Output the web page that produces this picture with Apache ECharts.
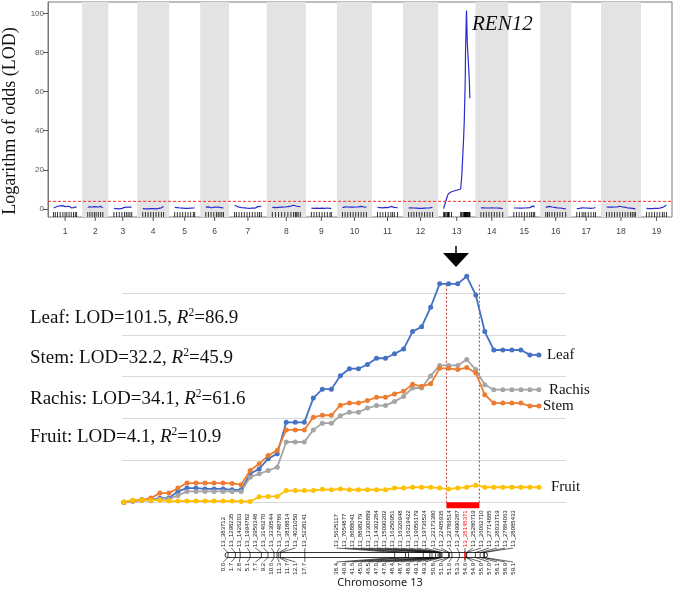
<!DOCTYPE html>
<html><head><meta charset="utf-8">
<script src="https://cdn.jsdelivr.net/npm/echarts@6/dist/echarts.min.js"></script>
<style>html,body{margin:0;padding:0;background:#fff}#c{width:675px;height:591px}</style>
</head><body><div id="c"></div>
<script>
// ===== Top panel: genome-wide LOD scan =====
const chrNames = ['1','2','3','4','5','6','7','8','9','10','11','12','13','14','15','16','17','18','19'];
const chrLengths = [52,34,40,47,45,40,60,63,45,54,45,54,59.1,49,47,45,42,65,45]; // cM
const chrGap = 25;
const lodThreshold = 3.9;
const lodTicks = [0,20,40,60,80,100];
const qtlName = 'REN12';
// [position cM, LOD]
const scan1 = [[0,0.5],[4,0.9],[9,1.4],[15,1.6],[21,1.7],[26,1.2],[30,1.0],[35,1.4],[40,0.6],[45,0.7],[49,1.0],[52,1.1]];
const scan2 = [[0,0.9],[5,1.1],[10,1.0],[15,1.2],[19,1.1],[24,1.0],[29,1.3],[34,0.6]];
const scan3 = [[0,0.3],[6,0.2],[12,0.1],[18,0.3],[24,0.8],[28,1.2],[32,0.9],[36,1.1],[40,0.9]];
const scan4 = [[0,0.2],[6,0.1],[12,0.1],[18,0.2],[24,0.2],[30,0.1],[36,0.3],[42,0.6],[47,1.3]];
const scan5 = [[0,0.8],[6,0.7],[12,0.5],[18,0.4],[24,0.3],[30,0.3],[36,0.4],[42,0.5],[45,0.6]];
const scan6 = [[0,0.9],[6,1.1],[12,0.6],[18,0.9],[24,1.0],[28,1.3],[32,0.8],[36,0.6],[40,0.5]];
const scan7 = [[0,1.9],[4,1.3],[10,0.9],[16,0.7],[22,0.6],[28,0.4],[34,0.3],[40,0.5],[46,0.4],[52,1.2],[56,1.4],[60,1.3]];
const scan8 = [[0,0.8],[7,0.7],[14,0.8],[21,0.9],[28,1.0],[35,1.2],[42,1.5],[48,1.9],[52,2.2],[55,1.4],[58,1.8],[63,1.2]];
const scan9 = [[0,0.4],[6,0.3],[12,0.4],[18,0.3],[24,0.4],[30,0.3],[36,0.5],[42,0.3],[45,0.2]];
const scan10 = [[0,0.7],[6,1.1],[12,1.0],[18,0.9],[24,0.9],[30,1.0],[36,1.1],[42,1.3],[48,1.0],[54,0.9]];
const scan11 = [[0,0.8],[6,0.7],[12,0.6],[18,0.8],[24,0.7],[30,1.3],[34,0.9],[38,0.8],[45,0.7]];
const scan12 = [[0,0.5],[6,0.6],[12,0.5],[18,0.4],[24,0.3],[30,0.3],[36,0.4],[42,0.5],[48,0.6],[54,0.9]];
const scan13 = [[0.0,0.2],[1.7,1.5],[2.8,2.5],[5.1,4.2],[7.7,6.0],[9.2,7.0],[10.6,7.8],[11.3,8.2],[11.7,8.4],[12.1,8.5],[17.7,8.8],[38.4,10.2],[40.9,17.0],[41.6,20.0],[45.0,36.0],[46.5,45.0],[47.0,50.0],[47.8,57.0],[48.4,63.0],[48.7,67.0],[48.9,70.0],[49.1,74.0],[49.3,80.0],[50.8,95.0],[51.0,98.0],[51.6,101.5],[53.3,85.0],[54.6,80.0],[54.9,78.0],[55.0,77.0],[57.0,70.0],[58.1,64.0],[58.9,58.0],[59.1,56.6]];
const scan14 = [[0,0.6],[6,0.6],[12,0.5],[18,0.5],[24,0.6],[30,0.5],[36,0.5],[42,0.4],[49,0.2]];
const scan15 = [[0,0.5],[6,0.5],[12,0.4],[18,0.4],[24,0.5],[30,0.6],[36,0.7],[40,1.4],[44,1.6],[47,1.0]];
const scan16 = [[0,0.8],[4,1.4],[8,1.3],[14,1.0],[20,0.8],[26,0.6],[32,0.5],[38,0.3],[45,0.1]];
const scan17 = [[0,0.2],[6,0.3],[12,0.6],[16,0.8],[20,0.5],[26,0.4],[32,0.3],[38,0.5],[42,0.7]];
const scan18 = [[0,1.0],[6,0.9],[12,0.9],[18,1.0],[24,1.0],[30,1.4],[36,1.0],[42,0.9],[48,0.5],[54,0.4],[58,0.6],[62,0.2],[65,0.1]];
const scan19 = [[0,0.3],[6,0.2],[12,0.2],[18,0.3],[24,0.3],[30,0.4],[36,0.8],[40,1.2],[45,1.9]];
const scanByChr = [scan1,scan2,scan3,scan4,scan5,scan6,scan7,scan8,scan9,scan10,scan11,scan12,scan13,scan14,scan15,scan16,scan17,scan18,scan19];

// ===== Bottom panel: chromosome 13 detail (LOD along markers) =====
const traitNames = ['Leaf','Stem','Rachis','Fruit'];
const traitLOD = ['101.5','32.2','34.1','4.1'];
const traitR2 = ['86.9','45.9','61.6','10.9'];
const leafLOD = [0,0.8,1.1,1.1,1.9,1.9,4.9,6.4,6.4,6.0,6.0,6.0,5.6,5.6,12.8,15.0,19.6,21.8,35.9,35.9,35.9,46.8,50.8,50.8,56.8,60.0,60.0,61.9,64.7,64.7,66.7,68.8,76.7,78.8,87.6,98.1,98.1,98.1,101.5,93.1,76.7,68.4,68.4,68.4,68.4,66.2,66.2];
const stemLOD = [0,0.4,0.6,1.0,2.2,2.2,3.4,4.6,4.6,4.6,4.6,4.6,4.5,4.2,7.6,9.2,11.2,12.4,17.3,17.3,17.3,20.3,20.8,20.8,23.2,23.7,23.7,24.3,25.1,25.1,25.9,26.5,28.2,27.7,28.3,32.0,32.0,31.7,32.2,30.9,25.7,23.7,23.7,23.7,23.7,23.0,23.0];
const rachisLOD = [0,0.2,0.4,0.4,0.8,0.8,1.6,2.6,2.6,2.6,2.6,2.6,2.6,2.6,6.0,6.8,7.6,8.4,14.4,14.4,14.4,17.3,18.9,18.9,20.7,21.5,21.5,22.5,23.1,23.1,24.1,25.3,27.3,27.3,30.2,32.7,32.7,32.7,34.1,31.7,28.1,26.9,26.9,26.9,26.9,26.9,26.9];
const fruitLOD = [0.1,0.5,0.5,0.5,0.5,0.3,0.3,0.3,0.3,0.3,0.3,0.3,0.3,0.2,0.2,1.3,1.4,1.4,2.8,2.8,2.8,2.8,3.1,3.0,3.2,3.0,3.0,3.0,3.0,3.0,3.4,3.4,3.6,3.6,3.6,3.4,3.2,3.4,3.6,4.1,3.6,3.6,3.6,3.6,3.6,3.6,3.6];
const qtlInterval = [35.75, 39.4];
const qtlLineTop = 52;

// ===== Linkage map of chromosome 13 =====
const mapMarkers = ['13_383712','13_1298235','13_1426203','13_1994782','13_2956348','13_3146270','13_3330544','13_3748786','13_3818814','13_4021050','13_5238141','13_5625117','13_7054877','13_8688041','13_8898279','13_13300889','13_14302284','13_15090202','13_16250951','13_16320948','13_16219422','13_19056179','13_19736524','13_22173380','13_22405935','13_22789514','13_24990287','13_25145371','13_25280719','13_26062710','13_27714885','13_28033719','13_27884063','13_28085433'];
const mapPositions = [0.0,1.7,2.8,5.1,7.7,9.2,10.6,11.3,11.7,12.1,17.7,38.4,40.9,41.6,45.0,46.5,47.0,47.8,48.4,48.7,48.9,49.1,49.3,50.8,51.0,51.6,53.3,54.6,54.9,55.0,57.0,58.1,58.9,59.1];
const highlightMarker = '13_25145371';
const mapTitle = 'Chromosome 13';

// ---------- layout helpers ----------
const chrStart = []; let acc = 0;
chrLengths.forEach(L => { chrStart.push(acc + chrGap / 2); acc += L + chrGap; });
const genomeTotal = acc;
const yMin = -4.1, yMax = 105.8;

// spread overlapping labels (least-squares with minimum gap); the block holding the
// highlighted marker is anchored so that its label sits straight above the marker
function spreadLabels(pos, gap, anchor) {
  const blocks = [];
  pos.forEach((p, i) => {
    blocks.push({ start: i, n: 1, sum: p - i * gap });
    while (blocks.length > 1) {
      const b = blocks[blocks.length - 1], a = blocks[blocks.length - 2];
      if (a.sum / a.n >= b.sum / b.n) { a.n += b.n; a.sum += b.sum; blocks.pop(); } else break;
    }
  });
  const out = [];
  blocks.forEach(b => {
    let m = b.sum / b.n;
    if (anchor >= b.start && anchor < b.start + b.n) m = pos[anchor] - anchor * gap;
    for (let k = 0; k < b.n; k++) out.push(m + (b.start + k) * gap);
  });
  return out;
}
const mapLen = mapPositions[mapPositions.length - 1];
const labelPos = spreadLabels(mapPositions, 1.85, mapMarkers.indexOf(highlightMarker));

const chart = echarts.init(document.getElementById('c'));
const serif = 'Liberation Serif';
const sans = 'Liberation Sans';

const scanSeries = scanByChr.map((pts, c) => ({
  type: 'line', xAxisIndex: 0, yAxisIndex: 0, z: 3,
  data: pts.map(p => [chrStart[c] + p[0], p[1]]),
  showSymbol: false, silent: true,
  lineStyle: { color: '#2b2bd0', width: 1.2 }
}));

const bandSeries = {
  type: 'custom', xAxisIndex: 0, yAxisIndex: 0, z: 1, silent: true,
  data: chrLengths.map((L, c) => [chrStart[c] - chrGap / 2, chrStart[c] + L + chrGap / 2, c]).filter(d => d[2] % 2 === 1),
  renderItem(params, api) {
    const x0 = api.coord([api.value(0), 0])[0], x1 = api.coord([api.value(1), 0])[0];
    const cs = params.coordSys;
    return { type: 'rect', shape: { x: x0, y: cs.y, width: x1 - x0, height: cs.height }, style: { fill: '#e3e3e3' } };
  }
};

const thresholdSeries = {
  type: 'custom', xAxisIndex: 0, yAxisIndex: 0, z: 4, silent: true,
  data: [[lodThreshold]],
  renderItem(params, api) {
    const y = api.coord([0, api.value(0)])[1];
    const cs = params.coordSys;
    return { type: 'line', shape: { x1: cs.x, y1: y, x2: cs.x + cs.width, y2: y }, style: { stroke: '#ff2a2a', lineWidth: 1, lineDash: [3, 2] } };
  }
};

const rugData = [];
scanByChr.forEach((pts, c) => pts.forEach(p => rugData.push([chrStart[c] + p[0]])));
const rugSeries = {
  type: 'custom', xAxisIndex: 0, yAxisIndex: 0, z: 4, silent: true, clip: false,
  data: rugData,
  renderItem(params, api) {
    const x = api.coord([api.value(0), 0])[0];
    const cs = params.coordSys; const b = cs.y + cs.height;
    return { type: 'line', shape: { x1: x, y1: b - 5, x2: x, y2: b }, style: { stroke: '#000', lineWidth: 0.8 } };
  }
};

const chrLabelSeries = {
  type: 'custom', xAxisIndex: 0, yAxisIndex: 0, z: 4, silent: true, clip: false,
  data: chrNames.map((n, c) => [chrStart[c] + chrLengths[c] / 2, c]),
  renderItem(params, api) {
    const x = api.coord([api.value(0), 0])[0];
    const cs = params.coordSys; const b = cs.y + cs.height;
    return { type: 'group', children: [
      { type: 'line', shape: { x1: x, y1: b, x2: x, y2: b + 4 }, style: { stroke: '#555', lineWidth: 1 } },
      { type: 'text', x: x, y: b + 15, style: { text: chrNames[api.value(1)], fill: '#444', fontSize: 8.5, fontFamily: sans, align: 'center', verticalAlign: 'middle' } }
    ] };
  }
};

function traitSeries(name, vals, color, yIdx, dist, z) {
  return {
    name, type: 'line', xAxisIndex: 1, yAxisIndex: yIdx, z, clip: false,
    data: vals.map((v, i) => [i, v]),
    symbol: 'circle', symbolSize: 5, showSymbol: true,
    lineStyle: { color, width: 1.8 }, itemStyle: { color },
    endLabel: { show: true, formatter: '{a}', distance: dist, color: '#111', fontFamily: serif, fontSize: 15 }
  };
}
const leafS = traitSeries('Leaf', leafLOD, '#4472C4', 2, 8, 5);
const rachisS = traitSeries('Rachis', rachisLOD, '#A5A5A5', 1, 10, 5);
const stemS = traitSeries('Stem', stemLOD, '#ED7D31', 1, 4, 6);
const fruitS = traitSeries('Fruit', fruitLOD, '#FFC000', 1, 12, 6);

const qtlLines = {
  type: 'custom', xAxisIndex: 1, yAxisIndex: 1, z: 4, silent: true, clip: false,
  data: qtlInterval.map(x => [x]),
  renderItem(params, api) {
    const p0 = api.coord([api.value(0), qtlLineTop]), p1 = api.coord([api.value(0), 0]);
    return { type: 'line', shape: { x1: p0[0], y1: p0[1], x2: p1[0], y2: p1[1] }, style: { stroke: '#c0392b', lineWidth: 1, lineDash: [2, 2] } };
  }
};

const redBar = {
  type: 'custom', xAxisIndex: 1, yAxisIndex: 1, z: 7, silent: true, clip: false,
  data: [qtlInterval],
  renderItem(params, api) {
    const p0 = api.coord([api.value(0), 0]), p1 = api.coord([api.value(1), 0]);
    return { type: 'rect', shape: { x: p0[0], y: p0[1], width: p1[0] - p0[0], height: 6 }, style: { fill: '#ff0000' } };
  }
};

const mapSeries = {
  type: 'custom', xAxisIndex: 2, yAxisIndex: 3, z: 5, silent: true, clip: false,
  data: mapPositions.map((p, i) => [p, labelPos[i], i]),
  renderItem(params, api) {
    const i = api.value(2);
    const bx = api.coord([api.value(0), 0])[0];
    const lx = api.coord([api.value(1), 0])[0];
    const cs = params.coordSys; const top = cs.y, bot = cs.y + cs.height;
    const hi = mapMarkers[i] === highlightMarker;
    const col = hi ? '#ff0000' : '#111';
    const ch = [];
    if (i === 0) {
      const a = api.coord([0, 0])[0], e = api.coord([mapLen, 0])[0];
      ch.push({ type: 'rect', shape: { x: a - 3, y: top, width: e - a + 6, height: bot - top, r: 2.5 }, style: { fill: '#fff', stroke: '#000', lineWidth: 0.8 } });
    }
    ch.push({ type: 'line', shape: { x1: bx, y1: hi ? top - 1 : top, x2: bx, y2: hi ? bot + 2 : bot }, style: { stroke: hi ? '#ff0000' : '#000', lineWidth: hi ? 1.5 : 0.7 } });
    ch.push({ type: 'line', shape: { x1: lx, y1: top - 4.5, x2: bx, y2: top }, style: { stroke: '#000', lineWidth: 0.6 } });
    ch.push({ type: 'line', shape: { x1: bx, y1: bot, x2: lx, y2: bot + 4.5 }, style: { stroke: '#000', lineWidth: 0.6 } });
    ch.push({ type: 'text', x: lx, y: top - 5.5, rotation: Math.PI / 2, style: { text: mapMarkers[i], fill: col, fontSize: 6, fontFamily: sans, align: 'left', verticalAlign: 'middle' } });
    ch.push({ type: 'text', x: lx, y: bot + 5.5, rotation: Math.PI / 2, style: { text: api.value(0).toFixed(1), fill: '#111', fontSize: 6, fontFamily: sans, align: 'right', verticalAlign: 'middle' } });
    return { type: 'group', children: ch };
  }
};

const annY = [318, 358, 399, 437];
const annotations = traitNames.map((t, k) => ({
  type: 'text', left: 30, top: annY[k] - 11, z: 100,
  style: {
    text: '{n|' + t + ': LOD=' + traitLOD[k] + ', }{i|R}{s|2}{n|=' + traitR2[k] + '}',
    rich: {
      n: { fontFamily: serif, fontSize: 19, fill: '#111', lineHeight: 22 },
      i: { fontFamily: serif, fontSize: 19, fontStyle: 'italic', fill: '#111', lineHeight: 22 },
      s: { fontFamily: serif, fontSize: 11.5, fill: '#111', verticalAlign: 'top', lineHeight: 22 }
    }
  }
}));

chart.setOption({
  animation: false,
  grid: [
    { left: 48, top: 2, width: 624, height: 215, show: true, borderColor: '#7a7a7a', borderWidth: 1, backgroundColor: 'transparent' },
    { left: 122, top: 293, width: 444, height: 209.3 },
    { left: 228, top: 552.5, width: 256.5, height: 5 }
  ],
  xAxis: [
    { gridIndex: 0, type: 'value', min: 0, max: genomeTotal, show: false },
    { gridIndex: 1, type: 'value', min: -0.2, max: 49, show: false },
    { gridIndex: 2, type: 'value', min: 0, max: mapLen, show: false }
  ],
  yAxis: [
    { gridIndex: 0, type: 'value', min: yMin, max: yMax,
      axisLine: { show: true, lineStyle: { color: '#7a7a7a' } },
      axisTick: { show: true, length: 5, customValues: lodTicks, lineStyle: { color: '#555' } },
      axisLabel: { customValues: lodTicks, fontSize: 8, color: '#555', fontFamily: sans, margin: 4 },
      splitLine: { show: false } },
    { gridIndex: 1, type: 'value', min: 0, max: 50, interval: 10,
      axisLine: { show: false }, axisTick: { show: false }, axisLabel: { show: false },
      splitLine: { show: true, lineStyle: { color: '#d9d9d9', width: 1 } } },
    { gridIndex: 1, type: 'value', min: 0, max: 94, show: false, splitLine: { show: false } },
    { gridIndex: 2, type: 'value', min: 0, max: 1, show: false }
  ],
  series: [bandSeries, thresholdSeries, ...scanSeries, rugSeries, chrLabelSeries, qtlLines, leafS, rachisS, stemS, fruitS, redBar, mapSeries],
  graphic: [
    { type: 'text', x: 10, y: 121, rotation: Math.PI / 2, z: 100,
      style: { text: 'Logarithm of odds (LOD)', fontFamily: serif, fontSize: 18, fill: '#111', align: 'center', verticalAlign: 'middle' } },
    { type: 'text', x: 472, y: 24, z: 100,
      style: { text: qtlName, fontFamily: serif, fontSize: 21, fontStyle: 'italic', fill: '#111', align: 'left', verticalAlign: 'middle' } },
    { type: 'line', z: 100, shape: { x1: 456, y1: 246, x2: 456, y2: 254 }, style: { stroke: '#000', lineWidth: 1.5 } },
    { type: 'polygon', z: 100, shape: { points: [[443, 253], [469, 253], [456, 267]] }, style: { fill: '#000' } },
    ...annotations,
    { type: 'text', x: 380, y: 583, z: 100,
      style: { text: mapTitle, fontFamily: 'Noto Sans', fontSize: 11, fill: '#222', align: 'center', verticalAlign: 'middle' } }
  ]
});
</script>
</body></html>
